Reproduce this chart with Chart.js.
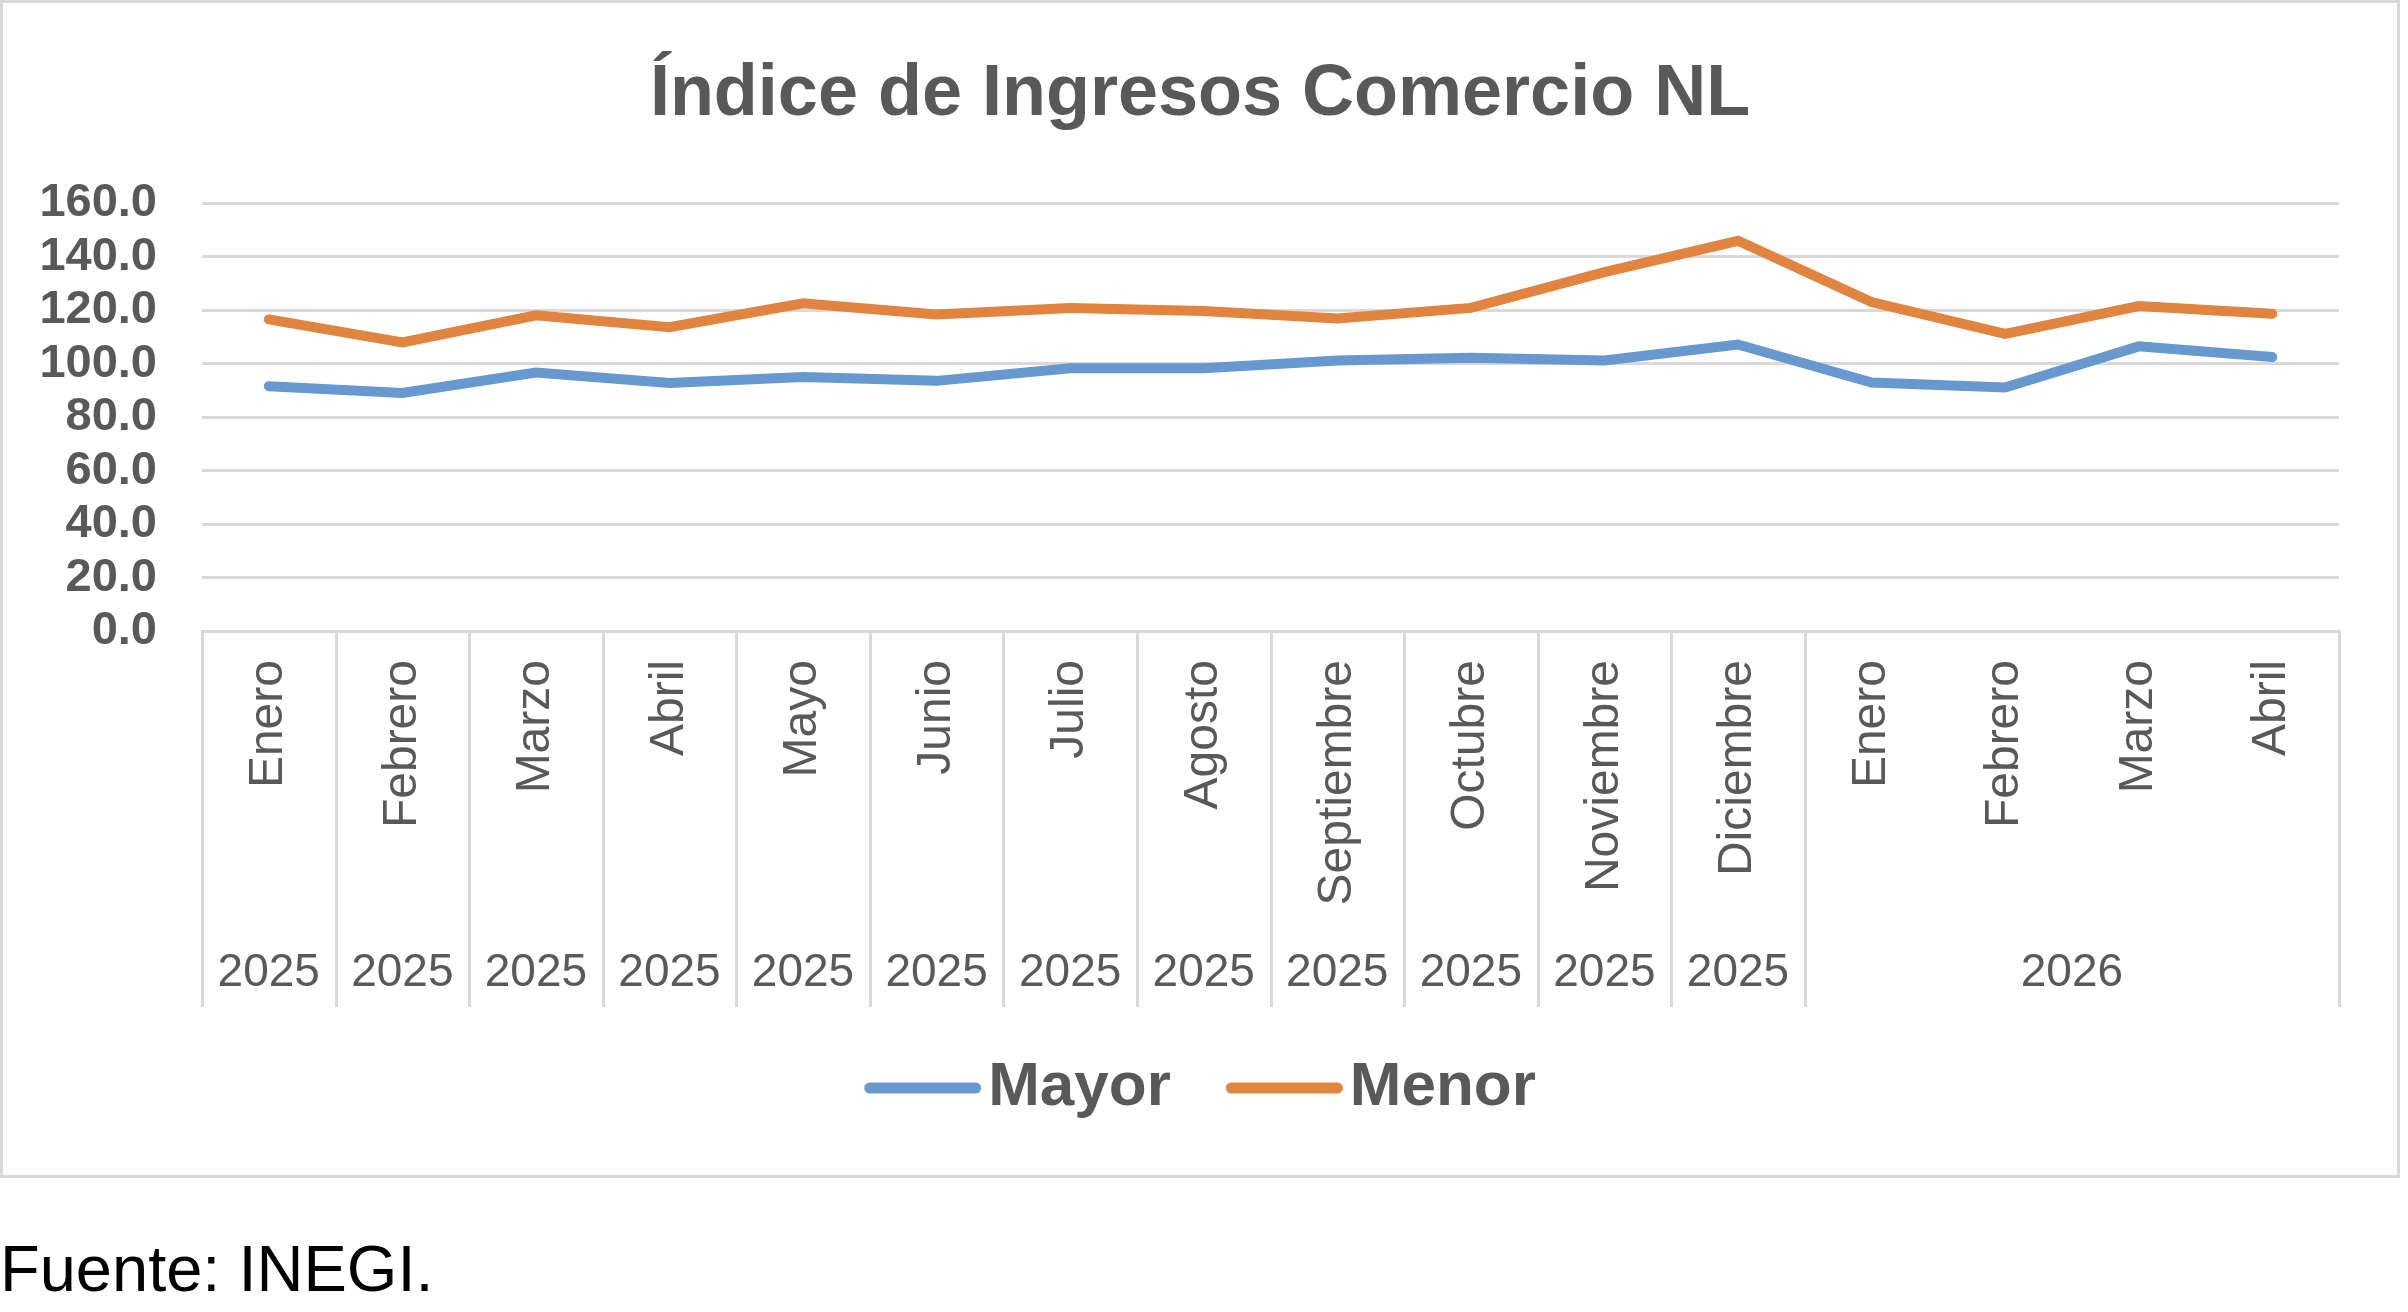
<!DOCTYPE html>
<html>
<head>
<meta charset="utf-8">
<script src="https://cdn.jsdelivr.net/npm/chart.js@4.4.1/dist/chart.umd.min.js"></script>
<style>
  body { margin: 0; background: #fff; width: 2408px; height: 1312px; position: relative; overflow: hidden; }
  #box { position: absolute; left: 0; top: 0; width: 2400px; height: 1178px; }
  #frame { position: absolute; left: 0; top: 0; width: 2400px; height: 1178px; box-sizing: border-box; border: 3px solid #d9d9d9; pointer-events: none; }
  #fuente { position: absolute; left: 0; top: 1236px; font: 65px/65px "Liberation Sans", Arial, sans-serif; color: #000; }
</style>
</head>
<body>
<div id="box"><canvas id="chart"></canvas></div>
<div id="frame"></div>
<div id="fuente">Fuente: INEGI.</div>
<script>
// datos
const meses = ['Enero', 'Febrero', 'Marzo', 'Abril', 'Mayo', 'Junio', 'Julio', 'Agosto',
    'Septiembre', 'Octubre', 'Noviembre', 'Diciembre', 'Enero', 'Febrero', 'Marzo', 'Abril'];
const anios = ['2025', '2025', '2025', '2025', '2025', '2025', '2025', '2025', '2025', '2025', '2025', '2025', '2026'];
const aniosMeses = [1, 1, 1, 1, 1, 1, 1, 1, 1, 1, 1, 1, 4]; // cuantos meses abarca cada etiqueta de año
const mayor = [91.6, 89.1, 96.7, 92.8, 95.0, 93.6, 98.3, 98.3, 101.2, 102.2, 101.2, 107.2, 93.0, 91.1, 106.5, 102.5];
const menor = [116.6, 108.0, 118.1, 113.7, 122.6, 118.4, 120.9, 119.7, 116.9, 120.9, 134.3, 146.0, 123.1, 111.2, 121.6, 118.7];

const gris = '#595959';
const lineaGris = '#d9d9d9';
const fuente = '"Liberation Sans", Arial, sans-serif';
const azul = '#6798d0';
const naranja = '#e0843f';

// marcador de leyenda: linea gruesa con puntas redondas, pegada al texto
function marcador(color) {
    const c = document.createElement('canvas');
    c.width = 141;
    c.height = 20;
    const g = c.getContext('2d');
    g.strokeStyle = color;
    g.lineWidth = 11;
    g.lineCap = 'round';
    g.beginPath();
    g.moveTo(24 + 5.5, 10);
    g.lineTo(141 - 5.5, 10);
    g.stroke();
    return c;
}

// separadores y etiquetas de año (segundo nivel del eje)
const ejeAnios = {
    id: 'ejeAnios',
    afterDraw(chart) {
        const x = chart.scales.x;
        const ctx = chart.ctx;
        const top = x.top;
        const bottom = x.top + 376;
        ctx.save();
        ctx.strokeStyle = lineaGris;
        ctx.lineWidth = 3;
        ctx.fillStyle = gris;
        ctx.font = '46px ' + fuente;
        ctx.textAlign = 'center';
        ctx.textBaseline = 'middle';
        let inicio = 0;
        const bordes = [0];
        anios.forEach((a, i) => {
            const fin = inicio + aniosMeses[i];
            const cx = (x.getPixelForValue(inicio - 0.5) + x.getPixelForValue(fin - 0.5)) / 2;
            ctx.fillText(a, cx, top + 342);
            bordes.push(fin);
            inicio = fin;
        });
        bordes.forEach(b => {
            const px = Math.round(x.getPixelForValue(b - 0.5)) + 0.5;
            ctx.beginPath();
            ctx.moveTo(px, top);
            ctx.lineTo(px, bottom);
            ctx.stroke();
        });
        ctx.restore();
    }
};

new Chart(document.getElementById('chart'), {
    type: 'line',
    data: {
        labels: meses,
        datasets: [
            {
                label: 'Mayor',
                data: mayor,
                borderColor: azul,
                backgroundColor: azul,
                borderWidth: 10,
                borderCapStyle: 'round',
                borderJoinStyle: 'miter',
                pointRadius: 0,
                pointStyle: marcador(azul),
                tension: 0
            },
            {
                label: 'Menor',
                data: menor,
                borderColor: naranja,
                backgroundColor: naranja,
                borderWidth: 10,
                borderCapStyle: 'round',
                borderJoinStyle: 'miter',
                pointRadius: 0,
                pointStyle: marcador(naranja),
                tension: 0
            }
        ]
    },
    options: {
        responsive: true,
        maintainAspectRatio: false,
        animation: false,
        layout: { padding: { left: 0, right: 0, top: 0, bottom: 49 } },
        plugins: {
            title: {
                display: true,
                text: 'Índice de Ingresos Comercio NL',
                color: gris,
                font: { family: fuente, size: 72, weight: 'bold', lineHeight: 1.2 },
                padding: { top: 52, bottom: 65 }
            },
            legend: {
                position: 'bottom',
                labels: {
                    color: gris,
                    font: { family: fuente, size: 62, weight: 'bold' },
                    usePointStyle: true,
                    pointStyleWidth: 93,
                    padding: 55
                }
            },
            tooltip: { enabled: false }
        },
        scales: {
            x: {
                offset: true,
                grid: { display: false },
                border: { display: true, color: lineaGris, width: 3 },
                ticks: {
                    color: gris,
                    font: { family: fuente, size: 48 },
                    minRotation: 90,
                    maxRotation: 90,
                    autoSkip: false,
                    padding: 21
                },
                afterFit(scale) { scale.height = 371; }
            },
            y: {
                min: 0,
                max: 160,
                grid: { color: lineaGris, lineWidth: 3, drawTicks: false },
                border: { display: false },
                ticks: {
                    stepSize: 20,
                    autoSkip: false,
                    color: gris,
                    font: { family: fuente, size: 47, weight: 'bold' },
                    padding: 45,
                    callback: v => v.toFixed(1)
                },
                afterFit(scale) { scale.width = 202; }
            },
            // margen derecho vacio para que titulo y leyenda queden centrados en el recuadro
            margenDer: {
                type: 'linear',
                position: 'right',
                grid: { display: false },
                border: { display: false },
                ticks: { display: false },
                afterFit(scale) { scale.width = 61; }
            }
        }
    },
    plugins: [ejeAnios]
});
</script>
</body>
</html>
